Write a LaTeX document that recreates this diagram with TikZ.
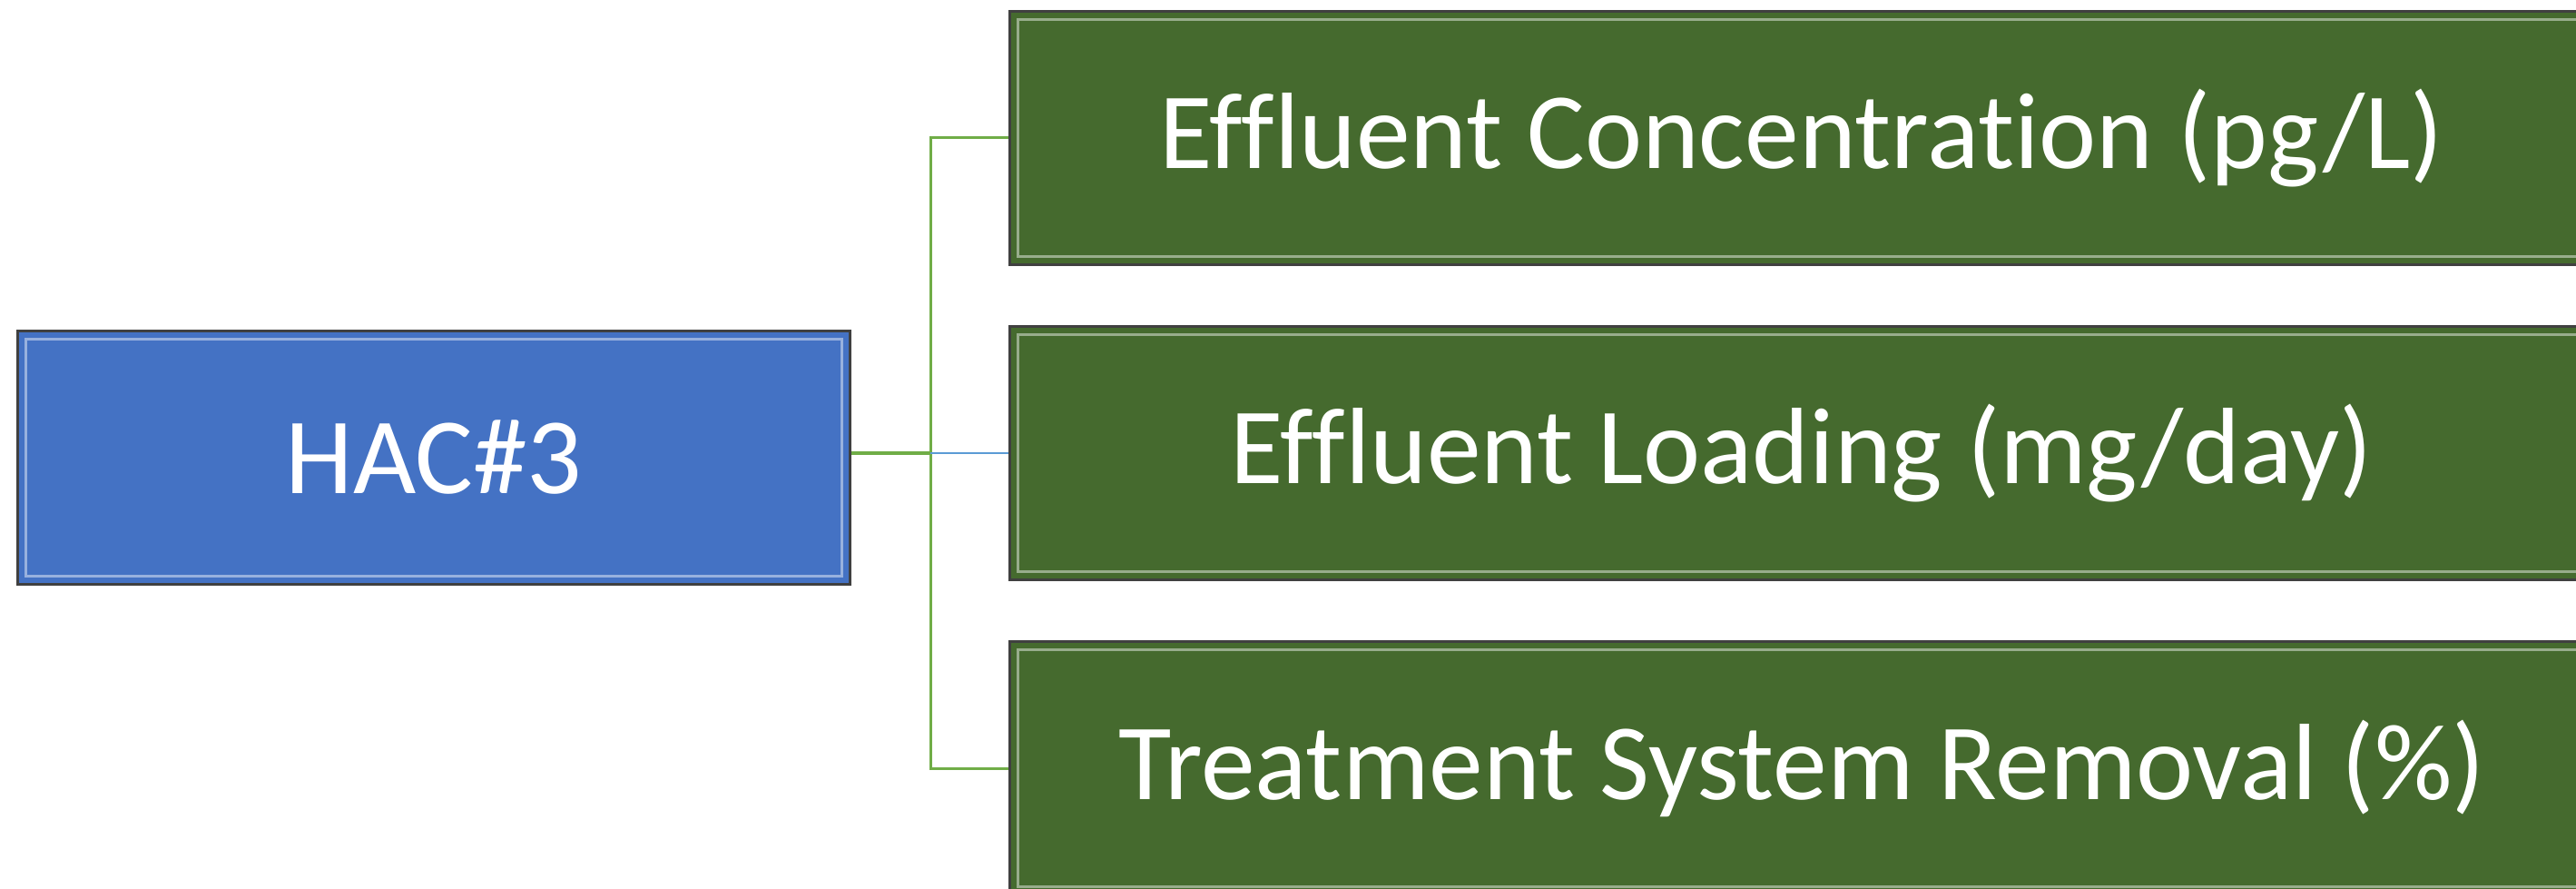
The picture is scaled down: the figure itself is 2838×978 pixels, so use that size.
\documentclass[tikz,border=0pt]{standalone}
\usepackage{fontspec}
\setmainfont{Carlito}[Ligatures=NoCommon]
\definecolor{hacblue}{RGB}{68,114,196}
\definecolor{boxgreen}{RGB}{69,106,46}
\definecolor{linkgreen}{RGB}{112,173,71}
\definecolor{linkblue}{RGB}{91,155,213}

\begin{document}
\begin{tikzpicture}[x=0.01cm,y=0.01cm,
  box/.style={draw=black!75,line width=0.03cm,inner sep=0pt,text=white,
    font=\fontsize{34}{38}\selectfont,minimum height=2.79cm,
    path picture={\draw[white,opacity=.45,line width=0.035cm]
      ([shift={(0.09cm,0.09cm)}]path picture bounding box.south west) rectangle
      ([shift={(-0.09cm,-0.09cm)}]path picture bounding box.north east);}},
  link/.style={linkgreen,line width=0.03cm}]
  \useasboundingbox (0,0) rectangle (2838,978);
  \node[box,fill=hacblue,minimum width=9.16cm] (hac) at (478,474) {HAC\#3};
  \node[box,fill=boxgreen,minimum width=17.44cm] (e1) at (1985,826) {Effluent Concentration (pg/L)};
  \node[box,fill=boxgreen,minimum width=17.44cm] (e2) at (1985,479) {Effluent Loading (mg/day)};
  \node[box,fill=boxgreen,minimum width=17.44cm] (e3) at (1985,132) {Treatment System Removal (\%)};
  \coordinate (j) at (1025,479);
  \draw[link] (hac.east |- j) -- (j);
  \draw[link] (e1.west) -| (j) |- (e3.west);
  \draw[linkblue,line width=0.02cm] (j) -- (e2.west);
\end{tikzpicture}
\end{document}
